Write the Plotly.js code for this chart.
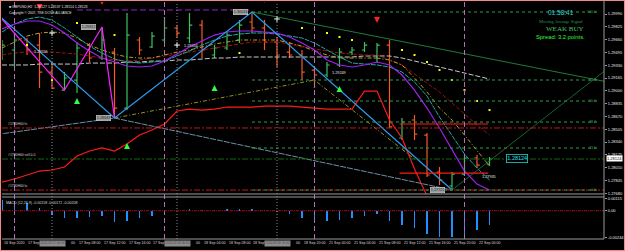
<!DOCTYPE html>
<html><head><meta charset="utf-8">
<script src="https://cdn.plot.ly/plotly-3.0.1.min.js"></script>
<style>
html,body{margin:0;padding:0;background:#000;}
#chart{width:625px;height:251px;position:absolute;left:0;top:0;}
#frame{position:absolute;left:0;top:0;width:625px;height:251px;box-sizing:border-box;border:1px solid #f08a8a;pointer-events:none;}
</style>
</head><body><div id="chart"></div><div id="frame"></div>
<script>
// ---- bar data (GBPUSD, H2) ----
const barIdx = [0,1,2,3,4,5,6,7,8,9,10,11,12,13,14,15,16,17,18,19,20,21,22,23,24,25,26,27,28,29,30,31,32,33,34,35,36,37,38,39];
const openP  = [1.29462,1.29526,1.29655,1.29590,1.29242,1.29010,1.29139,1.29590,1.29423,1.29500,1.28778,1.29655,1.29565,1.29655,1.29810,1.29681,1.29848,1.29462,1.29552,1.29655,1.29887,1.29810,1.29629,1.29500,1.29462,1.29268,1.29204,1.29333,1.29500,1.29526,1.29423,1.29590,1.28392,1.28624,1.28430,1.27953,1.27773,1.27927,1.28134,1.28056];
const highP  = [1.29655,1.29745,1.29681,1.29745,1.29371,1.29242,1.29629,1.29616,1.29822,1.29552,1.30003,1.29694,1.29758,1.29951,1.29848,1.30003,1.29913,1.29590,1.29758,1.29913,1.30016,1.29913,1.29694,1.29629,1.29526,1.29307,1.29371,1.29552,1.29565,1.29629,1.29616,1.29655,1.28649,1.28688,1.28456,1.28018,1.27953,1.28172,1.28172,1.28147];
const lowP   = [1.29397,1.29307,1.29462,1.29036,1.29023,1.29010,1.28972,1.29371,1.29397,1.28649,1.28752,1.29462,1.29552,1.29616,1.29681,1.29616,1.29423,1.29423,1.29526,1.29616,1.29745,1.29526,1.29307,1.29423,1.29139,1.29036,1.29178,1.29307,1.29462,1.29500,1.29358,1.28521,1.28366,1.28366,1.27889,1.27786,1.27721,1.27902,1.28005,1.28031];
const closeP = [1.29590,1.29655,1.29526,1.29242,1.29036,1.29165,1.29552,1.29423,1.29655,1.28778,1.29719,1.29526,1.29706,1.29810,1.29745,1.29848,1.29526,1.29552,1.29719,1.29848,1.29810,1.29629,1.29462,1.29462,1.29242,1.29204,1.29333,1.29500,1.29526,1.29590,1.29590,1.28534,1.28598,1.28443,1.27915,1.27850,1.27927,1.28134,1.28043,1.28121];

// ---- moving averages ----
const maViolet = [1.29797,1.29861,1.29900,1.29900,1.29848,1.29745,1.29616,1.29513,1.29423,1.29371,1.29320,1.29307,1.29320,1.29384,1.29474,1.29565,1.29642,1.29719,1.29758,1.29771,1.29771,1.29758,1.29745,1.29694,1.29616,1.29526,1.29397,1.29333,1.29307,1.29333,1.29371,1.29333,1.29204,1.29010,1.28778,1.28521,1.28237,1.27966,1.27798,1.27721];
const maTeal   = [1.29758,1.29861,1.29926,1.29951,1.29913,1.29810,1.29694,1.29577,1.29487,1.29410,1.29371,1.29358,1.29371,1.29384,1.29449,1.29513,1.29590,1.29655,1.29706,1.29732,1.29745,1.29745,1.29732,1.29706,1.29681,1.29616,1.29526,1.29436,1.29358,1.29345,1.29333,1.29307,1.29242,1.29113,1.28933,1.28662,1.28417,1.28185,1.28005,1.27850];
const maGold   = [1.29552,1.29629,1.29706,1.29745,1.29758,1.29745,1.29681,1.29590,1.29526,1.29474,1.29436,1.29423,1.29423,1.29462,1.29500,1.29526,1.29565,1.29603,1.29629,1.29655,1.29655,1.29655,1.29655,1.29616,1.29577,1.29513,1.29462,1.29423,1.29423,1.29423,1.29423,1.29397,1.29333,1.29165,1.28985,1.28778,1.28624,1.28430,1.28237,1.28031];
const maMaroon = [1.29462,1.29487,1.29500,1.29500,1.29500,1.29487,1.29474,1.29449,1.29423,1.29397,1.29384,1.29397,1.29423,1.29449,1.29474,1.29500,1.29526,1.29552,1.29577,1.29603,1.29629,1.29629,1.29629,1.29603,1.29565,1.29539,1.29513,1.29487,1.29474,1.29462,1.29462,1.29397,1.29333,1.29216,1.29101,1.28985,1.28843,1.28701,1.28559,1.28430];
const maSilver = [1.29333,1.29333,1.29333,1.29345,1.29345,1.29345,1.29345,1.29358,1.29358,1.29358,1.29371,1.29371,1.29384,1.29384,1.29397,1.29397,1.29410,1.29423,1.29423,1.29436,1.29436,1.29436,1.29436,1.29436,1.29436,1.29436,1.29436,1.29436,1.29436,1.29449,1.29449,1.29449,1.29423,1.29384,1.29345,1.29307,1.29268,1.29229,1.29191,1.29152];
const redIdx   = [0,1,2,3,4,5,6,7,8,9,10,11,12,13,14,15,16,17,18,19,20,21,22,23,24,25,26,27,28,29,30,31,32,33,34];
const redLine  = [1.27824,1.27863,1.27915,1.27966,1.27979,1.28018,1.28160,1.28224,1.28263,1.28224,1.28314,1.28430,1.28495,1.28572,1.28740,1.28765,1.28752,1.28765,1.28791,1.28791,1.28791,1.28804,1.28804,1.28804,1.28791,1.28778,1.28765,1.28765,1.28765,1.28997,1.28997,1.28624,1.28392,1.27992,1.27644];

// ---- zigzags / trend lines ----
const zzBlueIdx = [-1,9,20,36];
const zzBluePx  = [1.30078,1.28649,1.30016,1.27721];
const zzPinkIdx = [-1,5,8,9];
const zzPinkPx  = [1.30109,1.29010,1.29822,1.28649];
const steelIdx  = [-1,9,36];
const steelPx   = [1.28424,1.28649,1.27721];
const oliveIdx  = [9,25,33];
const olivePx   = [1.28649,1.29139,1.28120];
const trendDownIdx = [20,48.2];
const trendDownPx  = [1.30016,1.29122];
const trendUpIdx   = [36,48.2];
const trendUpPx    = [1.27721,1.29255];

// ---- signals ----
const buyIdx  = [6,10,17,27];
const buyPx   = [1.28907,1.28327,1.29075,1.29062];
const sellIdx = [3,8,21,30];
const sellPx  = [1.30042,1.30106,1.30132,1.29874];
const sarIdx  = [2,4,6,9,19,24,26,27,28,32,33,34,35,36,37,38,39];
const sarPx   = [1.29590,1.29139,1.29874,1.29719,1.29487,1.29810,1.29745,1.29694,1.29655,1.29526,1.29462,1.29371,1.29268,1.29139,1.29010,1.28869,1.28752];
const anchorIdx = [4,14,22];
const anchorPx  = [1.29745,1.29590,1.29926];

// ---- levels ----
const fibHigh = 1.30016, fibLow = 1.27721, fibStartIdx = 20;
const fibRatios = [0, 0.236, 0.382, 0.5, 0.618, 1.0];
const fibNames  = ["0.0","23.6","38.2","50.0","61.8","100.0"];
const hiLevel = 1.28521, loLevel = 1.27721, sellLevel = 1.28121;
const boxLevels = [1.28572, 1.27940];
const topDashLevel = 1.30042;
const currentPrice = 1.28124;

// ---- MACD histogram ----
const macdHist = [0.00098,0.00090,0.00068,0.00022,-0.00039,-0.00070,-0.00070,-0.00055,-0.00050,-0.00100,-0.00092,-0.00070,-0.00050,-0.00025,-0.00005,0.00020,0.00003,0.00010,0.00012,0.00015,0.00015,0.00005,-0.00010,-0.00031,-0.00064,-0.00100,-0.00095,-0.00086,-0.00064,-0.00046,-0.00031,-0.00092,-0.00130,-0.00160,-0.00217,-0.00238,-0.00244,-0.00223,-0.00177,-0.00130];

// ---- axis labels ----
const priceTicks = [1.29990,1.29825,1.29660,1.29495,1.29330,1.29165,1.29000,1.28835,1.28670,1.28505,1.28340,1.28175,1.28010,1.27845,1.27680];
const macdTicks = [0.00115, 0, -0.00244];
const macdTickText = ["0.00115","0.00","-0.00244"];
const timeIdx = [0,2,4,6,8,10,12,14,16,18,20,22,24,26,28,30,32,34,36,38];
const timeText = ["16 Sep 2020","17 Sep 00:00","17 Sep 04:00","17 Sep 08:00","17 Sep 12:00","17 Sep 16:00","17 Sep 20:00","18 Sep 00:00","18 Sep 04:00","18 Sep 08:00","18 Sep 12:00","18 Sep 16:00","18 Sep 20:00","21 Sep 00:00","21 Sep 04:00","21 Sep 08:00","21 Sep 12:00","21 Sep 16:00","21 Sep 20:00","22 Sep 00:00"];
const vlineIdx = [4,14,22];
const vlineText = ["2020.09.17 04:00","2020.09.18 00:00","2020.09.18 16:00"];
const daySepIdx = [1,13,25,37];

const F = "Liberation Sans, Arial, sans-serif";
const FS = "Liberation Serif, Times New Roman, serif";

const traces = [];
function line(x,y,color,width,dash,extra){
  return Object.assign({type:'scatter',mode:'lines',x:x,y:y,line:{color:color,width:width,dash:dash},hoverinfo:'skip',showlegend:false,xaxis:'x',yaxis:'y'},extra||{});
}
traces.push(line(redIdx, redLine, '#ff1a1a', 1.2, 'solid'));
traces.push(line(barIdx, maSilver, '#c8c8c8', 1, '5px,2px'));
traces.push(line(barIdx, maMaroon, '#a01010', 1, '4px,2px'));
traces.push(line(barIdx, maGold, '#b8a020', 1, '4px,2px,1px,2px'));
traces.push(line(oliveIdx, olivePx, '#9a9020', 1, '4px,2px,1px,2px'));
traces.push(line(barIdx, maTeal, '#20a8a0', 1, '5px,1px'));
traces.push(line(barIdx, maViolet, '#a020f0', 1.2, 'solid'));
traces.push(line(steelIdx, steelPx, '#6b90a8', 1, '6px,1px'));
traces.push(line(trendDownIdx, trendDownPx, '#1f7a3a', 1, 'solid'));
traces.push(line(trendUpIdx, trendUpPx, '#1f7a3a', 0.8, 'solid'));
traces.push(line(zzPinkIdx, zzPinkPx, '#ff20ff', 1.2, 'solid'));
traces.push(line(zzBlueIdx, zzBluePx, '#2b9cf0', 1.2, 'solid'));

traces.push({type:'ohlc',x:barIdx,open:openP,high:highP,low:lowP,close:closeP,
  increasing:{line:{color:'#3cc060',width:1.2}},decreasing:{line:{color:'#f05a28',width:1.2}},
  tickwidth:0.22,hoverinfo:'skip',showlegend:false,xaxis:'x',yaxis:'y'});

traces.push({type:'scatter',mode:'markers',x:sarIdx,y:sarPx,marker:{symbol:'square',size:2,color:'#ffff00'},hoverinfo:'skip',showlegend:false});
traces.push({type:'scatter',mode:'markers',x:anchorIdx,y:anchorPx,marker:{symbol:'cross-thin',size:4,color:'#ffffff',line:{color:'#ffffff',width:1}},hoverinfo:'skip',showlegend:false});
traces.push({type:'scatter',mode:'markers',x:buyIdx,y:buyPx,marker:{symbol:'arrow-up',size:6,color:'#30ff40',line:{width:0}},hoverinfo:'skip',showlegend:false});
traces.push({type:'scatter',mode:'markers',x:sellIdx,y:sellPx,marker:{symbol:'arrow-down',size:6,color:'#ff2020',line:{width:0}},hoverinfo:'skip',showlegend:false});

traces.push({type:'bar',x:barIdx,y:macdHist,width:0.14,marker:{color:'#1e90ff',line:{width:0}},xaxis:'x',yaxis:'y2',hoverinfo:'skip',showlegend:false});

const shapes = [];
const XR = 48.16;
shapes.push({type:'line',xref:'x',yref:'y',x0:0,x1:XR,y0:hiLevel,y1:hiLevel,line:{color:'#c01818',width:1,dash:'6px,2px,2px,2px'}});
shapes.push({type:'line',xref:'x',yref:'y',x0:0,x1:XR,y0:loLevel,y1:loLevel,line:{color:'#c01818',width:1,dash:'6px,2px,2px,2px'}});
shapes.push({type:'line',xref:'x',yref:'y',x0:0,x1:XR,y0:sellLevel,y1:sellLevel,line:{color:'#0f6a0f',width:1.2,dash:'6px,2px,2px,2px'}});
boxLevels.forEach(v=>shapes.push({type:'line',xref:'x',yref:'y',x0:31.8,x1:38.9,y0:v,y1:v,line:{color:'#ff1a1a',width:1.2}}));
shapes.push({type:'line',xref:'x',yref:'y',x0:6,x1:19.8,y0:topDashLevel,y1:topDashLevel,line:{color:'#9a20c8',width:1,dash:'6px,3px'}});
fibRatios.forEach(r=>{const v=fibLow+(fibHigh-fibLow)*r;
  shapes.push({type:'line',xref:'x',yref:'y',x0:fibStartIdx,x1:47.7,y0:v,y1:v,line:{color:'#2e9e4a',width:1,dash:'dot'}});});
daySepIdx.forEach(i=>shapes.push({type:'line',xref:'x',yref:'paper',x0:i,x1:i,y0:0,y1:1,line:{color:'#b070b0',width:1,dash:'5px,3px'}}));
vlineIdx.forEach(i=>shapes.push({type:'line',xref:'x',yref:'paper',x0:i,x1:i,y0:0,y1:1,line:{color:'#8a8a8a',width:1,dash:'1px,2px'}}));
shapes.push({type:'line',xref:'x',yref:'y2',x0:0,x1:XR,y0:0,y1:0,line:{color:'#a01010',width:1,dash:'3px,1px,1px,1px'}});
shapes.push({type:'line',xref:'paper',yref:'paper',x0:1,x1:1,y0:0,y1:1.01,line:{color:'#9a9a9a',width:1}});
shapes.push({type:'line',xref:'paper',yref:'paper',x0:0,x1:1,y0:0.1899,y1:0.1899,line:{color:'#9a9a9a',width:1}});
shapes.push({type:'line',xref:'paper',yref:'paper',x0:0,x1:1,y0:0.1772,y1:0.1772,line:{color:'#9a9a9a',width:1}});
shapes.push({type:'line',xref:'paper',yref:'paper',x0:0,x1:1,y0:0,y1:0,line:{color:'#9a9a9a',width:1}});

const ann = [];
function txt(x,y,t,o){return Object.assign({x:x,y:y,xref:'x',yref:'y',text:t,showarrow:false,font:{family:F,size:4,color:'#ffffff'},xanchor:'left',yanchor:'middle'},o||{});}
// time axis labels; the parts hidden behind the vertical-line boxes are not drawn (as in the terminal)
const tf = {family:F,size:3.6,color:'#d8d8d8'};
timeIdx.forEach((i,k)=>{
  const t = timeText[k];
  const coveredLeft = vlineIdx.some(v=>v-i===2);
  const coveredSelf = vlineIdx.indexOf(i)>=0;
  if (coveredSelf) {
    ann.push({x:i+1.32,y:-0.017,xref:'x',yref:'paper',text:t.slice(-2),showarrow:false,xanchor:'left',yanchor:'middle',font:tf});
  } else if (coveredLeft) {
    ann.push({x:i,y:-0.017,xref:'x',yref:'paper',text:t.slice(0,6),showarrow:false,xanchor:'left',yanchor:'middle',xshift:-1,font:tf});
  } else {
    ann.push({x:i,y:-0.017,xref:'x',yref:'paper',text:t,showarrow:false,xanchor:'left',yanchor:'middle',font:tf});
  }
});
vlineIdx.forEach((i,k)=>ann.push({x:i,y:-0.017,xref:'x',yref:'paper',text:vlineText[k],showarrow:false,xanchor:'center',yanchor:'middle',bgcolor:'#8c8c8c',borderpad:0.3,font:{family:F,size:3.1,color:'#4a4a4a'}}));
[[6.3,zzPinkPx[2],'1.29812'],[18.5,zzBluePx[2],'1.30016'],[7.5,zzBluePx[1],'1.28649'],[34.2,zzBluePx[3],'1.27721']].forEach(a=>
  ann.push(txt(a[0],a[1],a[2],{bgcolor:'#9c9c9c',bordercolor:'#dcdcdc',borderwidth:0.5,borderpad:0.3,font:{family:F,size:3.8,color:'#2a2a2a'}})));
[[2.4,1.29500,'1.29556'],[14.4,1.29577,'1.29554'],[26.2,1.29229,'1.29249'],[38.2,1.27889,'1.27935']].forEach(a=>ann.push(txt(a[0],a[1],a[2],{font:{family:F,size:3.8,color:'#e8e8e8'}})));
ann.push(txt(0.3,hiLevel,'#1780H00 hi',{yanchor:'bottom',font:{family:F,size:3.4,color:'#d0d0d0'}}));
ann.push(txt(0.3,sellLevel,'#1780H00 sell 0.0',{yanchor:'bottom',font:{family:F,size:3.4,color:'#d0d0d0'}}));
ann.push(txt(0.3,loLevel,'#1780H00 lo',{yanchor:'bottom',font:{family:F,size:3.4,color:'#d0d0d0'}}));
fibRatios.forEach((r,k)=>{const v=fibLow+(fibHigh-fibLow)*r; ann.push(txt(47.7,v,fibNames[k],{xanchor:'right',yanchor:'middle',font:{family:F,size:3.6,color:'#3aa050'}}));});
ann.push(txt(40.3,currentPrice,'1.28124',{bordercolor:'#20d0d0',borderwidth:0.8,borderpad:0.5,bgcolor:'#000',font:{family:F,size:5.5,color:'#30e0e0'}}));
ann.push({x:1,y:currentPrice,xref:'paper',yref:'y',text:'1.28124',showarrow:false,xanchor:'left',xshift:2,bgcolor:'#ffffff',borderpad:0,font:{family:F,size:4,color:'#000'}});
ann.push({x:0.008,y:1,xref:'paper',yref:'paper',yshift:-1,text:'\u25a0 GBPUSD,H2  1.28127 1.28137 1.28114 1.28123',showarrow:false,xanchor:'left',yanchor:'top',font:{family:F,size:3.5,color:'#e0e0e0'}});
ann.push({x:0.008,y:1,xref:'paper',yref:'paper',yshift:-7,text:'Copyright \u00a9 2007, TKE DOVE ALLIANCE',showarrow:false,xanchor:'left',yanchor:'top',font:{family:F,size:3.4,color:'#e0e0e0'}});
ann.push({x:0.004,y:0.17,xref:'paper',yref:'paper',text:'MACD (12,26,9) -0.00158 -0.00172 -0.00208',showarrow:false,xanchor:'left',yanchor:'top',font:{family:F,size:3.6,color:'#d8d8d8'}});
ann.push({x:0.928,y:1,xref:'paper',yref:'paper',yshift:-10,text:'01:58:41',showarrow:false,xanchor:'center',yanchor:'middle',font:{family:F,size:6.5,color:'#30d8d8'}});
ann.push({x:0.928,y:1,xref:'paper',yref:'paper',yshift:-19,text:'Moving Average Signal',showarrow:false,xanchor:'center',yanchor:'middle',font:{family:FS,size:4.6,color:'#2a9a4a'}});
ann.push({x:0.935,y:1,xref:'paper',yref:'paper',yshift:-27,text:'WEAK BUY',showarrow:false,xanchor:'center',yanchor:'middle',font:{family:FS,size:7,color:'#40c060'}});
ann.push({x:0.928,y:1,xref:'paper',yref:'paper',yshift:-35,text:'Spread: 3.2 points.',showarrow:false,xanchor:'center',yanchor:'middle',font:{family:F,size:5.8,color:'#30ff30'}});

const layout = {
  width:625,height:251,margin:{l:2,r:21,t:2,b:12},
  paper_bgcolor:'#000',plot_bgcolor:'#000',showlegend:false,hovermode:false,dragmode:false,
  xaxis:{range:[0,XR],showgrid:false,zeroline:false,showticklabels:false,showline:false,ticks:'',anchor:'y2',rangeslider:{visible:false},fixedrange:true},
  yaxis:{domain:[0.1899,1],range:[1.27670,1.30145],side:'right',tickvals:priceTicks,ticktext:priceTicks.map(v=>v.toFixed(5)),
    tickfont:{family:F,size:4,color:'#e8e8e8'},ticks:'outside',ticklen:2,tickcolor:'#9a9a9a',showgrid:false,zeroline:false,showline:false,fixedrange:true},
  yaxis2:{domain:[0,0.1772],range:[-0.002595,0.001256],side:'right',tickvals:macdTicks,ticktext:macdTickText,
    tickfont:{family:F,size:4,color:'#e8e8e8'},ticks:'outside',ticklen:2,tickcolor:'#9a9a9a',showgrid:false,zeroline:false,showline:false,fixedrange:true},
  bargap:0,shapes:shapes,annotations:ann
};
Plotly.newPlot('chart',traces,layout,{staticPlot:true,displayModeBar:false});
</script></body></html>
